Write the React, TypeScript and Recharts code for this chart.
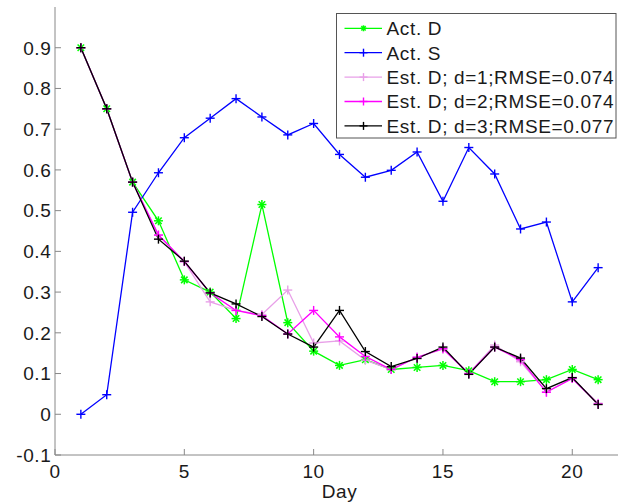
import { LineChart, Line, XAxis, YAxis, Legend } from "recharts";

const days = [1, 2, 3, 4, 5, 6, 7, 8, 9, 10, 11, 12, 13, 14, 15, 16, 17, 18, 19, 20, 21];
const actD = [0.9, 0.75, 0.57, 0.475, 0.33, 0.3, 0.235, 0.515, 0.225, 0.155, 0.12, 0.134, 0.11, 0.115, 0.12, 0.107, 0.08, 0.08, 0.085, 0.11, 0.085];
const actS = [0, 0.048, 0.496, 0.593, 0.679, 0.727, 0.775, 0.73, 0.686, 0.714, 0.638, 0.582, 0.599, 0.644, 0.523, 0.655, 0.59, 0.455, 0.472, 0.276, 0.36];
const estD1 = [0.9, 0.75, 0.57, 0.44, 0.375, 0.276, 0.255, 0.245, 0.305, 0.175, 0.18, 0.133, 0.11, 0.14, 0.16, 0.1, 0.17, 0.129, 0.055, 0.088, 0.027];
const estD2 = [0.9, 0.75, 0.57, 0.44, 0.375, 0.298, 0.255, 0.242, 0.197, 0.255, 0.19, 0.142, 0.11, 0.14, 0.161, 0.1, 0.165, 0.134, 0.054, 0.088, 0.025];
const estD3 = [0.9, 0.75, 0.57, 0.43, 0.376, 0.298, 0.271, 0.24, 0.197, 0.165, 0.255, 0.154, 0.117, 0.137, 0.165, 0.098, 0.165, 0.138, 0.063, 0.09, 0.024];

const xTicks = [0, 5, 10, 15, 20];
const yTicks = [-0.1, 0, 0.1, 0.2, 0.3, 0.4, 0.5, 0.6, 0.7, 0.8, 0.9];

const series = [
  { key: "actD", name: "Act. D", color: "#00ff00", marker: "star" },
  { key: "actS", name: "Act. S", color: "#0000ff", marker: "plus" },
  { key: "estD1", name: "Est. D; d=1;RMSE=0.074", color: "#e8a0e8", marker: "plus" },
  { key: "estD2", name: "Est. D; d=2;RMSE=0.074", color: "#ff00ff", marker: "plus" },
  { key: "estD3", name: "Est. D; d=3;RMSE=0.077", color: "#000000", marker: "plus" },
];

const data = days.map((day, i) => ({
  day,
  actD: actD[i],
  actS: actS[i],
  estD1: estD1[i],
  estD2: estD2[i],
  estD3: estD3[i],
}));

const FONT = "'Liberation Sans', Arial, Helvetica, sans-serif";
const AXIS = "#888888";
const TEXT = "#1a1a1a";
const SPACING = 0.65;

function Marker({ cx, cy, color, kind, r = 4.5 }) {
  if (cx == null || cy == null) return null;
  if (kind === "star") {
    const d = r * 0.72;
    return (
      <g stroke={color} strokeWidth={1.5}>
        <line x1={cx - r} y1={cy} x2={cx + r} y2={cy} />
        <line x1={cx} y1={cy - r} x2={cx} y2={cy + r} />
        <line x1={cx - d} y1={cy - d} x2={cx + d} y2={cy + d} />
        <line x1={cx - d} y1={cy + d} x2={cx + d} y2={cy - d} />
      </g>
    );
  }
  return (
    <g stroke={color} strokeWidth={1.4}>
      <line x1={cx - r} y1={cy} x2={cx + r} y2={cy} />
      <line x1={cx} y1={cy - r} x2={cx} y2={cy + r} />
    </g>
  );
}

const Y_MARGIN = 3.5;
const X_MARGIN = 10;

function YTick({ x, y, payload }) {
  const ax = x + Y_MARGIN;
  return (
    <g>
      <line x1={ax} y1={y} x2={ax + 6} y2={y} stroke={AXIS} />
      <text x={x} y={y} dy="0.36em" textAnchor="end" fontSize={19} fill={TEXT} fontFamily={FONT} letterSpacing={SPACING}>
        {String(payload.value)}
      </text>
    </g>
  );
}

function XTick({ x, y, payload }) {
  const ay = y - X_MARGIN;
  return (
    <g>
      <line x1={x} y1={ay} x2={x} y2={ay - 6} stroke={AXIS} />
      <text x={x} y={y} dy="0.71em" textAnchor="middle" fontSize={19} fill={TEXT} fontFamily={FONT} letterSpacing={SPACING}>
        {String(payload.value)}
      </text>
    </g>
  );
}

function LegendBox() {
  const rowH = 24.4;
  return (
    <svg width={281} height={126} style={{ display: "block" }}>
      <rect x={0.5} y={0.5} width={279.5} height={124.5} fill="#fff" stroke="#555" />
      {series.map((s, i) => {
        const cy = 15.3 + i * rowH;
        return (
          <g key={s.key}>
            <line x1={8.5} y1={cy} x2={46} y2={cy} stroke={s.color} strokeWidth={1.3} />
            <Marker cx={27.5} cy={cy} color={s.color} kind={s.marker} r={s.marker === "star" ? 3 : 4} />
            <text x={50.5} y={cy} dy="0.36em" fontSize={19} fill={TEXT} fontFamily={FONT} letterSpacing={SPACING}>
              {s.name}
            </text>
          </g>
        );
      })}
    </svg>
  );
}

export default function App() {
  return (
    <div
      style={{
        position: "fixed",
        left: 0,
        top: 0,
        width: 618,
        height: 502,
        overflow: "hidden",
        background: "#fff",
        fontFamily: FONT,
      }}
    >
      <LineChart width={624} height={502} data={data} margin={{ top: 7, right: 0, left: 0, bottom: 0 }}>
        <XAxis
          dataKey="day"
          type="number"
          domain={[0, 22]}
          ticks={xTicks}
          height={47}
          tickSize={0}
          tickMargin={X_MARGIN}
          tick={XTick}
          stroke={AXIS}
          allowDataOverflow
          label={{ value: "Day", position: "insideBottom", offset: 4, fontSize: 19, fill: TEXT, fontFamily: FONT, letterSpacing: SPACING }}
        />
        <YAxis
          type="number"
          domain={[-0.1, 1]}
          ticks={yTicks}
          width={55}
          tickSize={0}
          tickMargin={Y_MARGIN}
          tick={YTick}
          stroke={AXIS}
          allowDataOverflow
        />
        <Legend
          verticalAlign="middle"
          align="center"
          layout="horizontal"
          wrapperStyle={{ left: 336, top: 13, width: 281, height: 126, bottom: "auto", right: "auto" }}
          content={() => <LegendBox />}
        />
        {series.map((s) => (
          <Line
            key={s.key}
            dataKey={s.key}
            name={s.name}
            stroke={s.color}
            strokeWidth={1.3}
            isAnimationActive={false}
            dot={(props) => (
              <Marker key={props.key ?? `${s.key}-${props.index}`} cx={props.cx} cy={props.cy} color={s.color} kind={s.marker} />
            )}
            activeDot={false}
          />
        ))}
      </LineChart>
    </div>
  );
}
